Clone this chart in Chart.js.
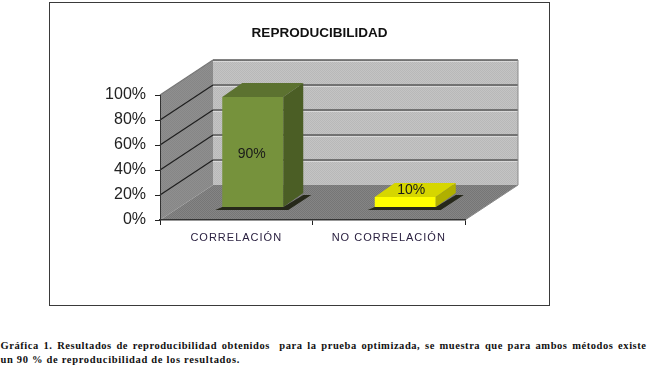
<!DOCTYPE html>
<html>
<head>
<meta charset="utf-8">
<script src="https://cdn.jsdelivr.net/npm/chart.js@4"></script>
<style>
html,body{margin:0;padding:0;background:#fff;overflow:hidden}
#wrap{position:absolute;left:0;top:0;width:639px;height:310px}
.cap{position:absolute;left:.5px;font:bold 10.5px "Liberation Serif",serif;color:#111;white-space:normal;letter-spacing:.68px}
#c1{top:340px;width:646px;text-align:justify;text-align-last:justify;letter-spacing:.55px}
#c2{top:354px}
</style>
</head>
<body>
<div id="wrap"><canvas id="chart" width="639" height="310"></canvas></div>
<div class="cap" id="c1">Gráfica 1. Resultados de reproducibilidad obtenidos &nbsp;para la prueba optimizada, se muestra que para ambos métodos existe</div>
<div class="cap" id="c2">un 90 % de reproducibilidad de los resultados.</div>
<script>
const categories = ['CORRELACIÓN', 'NO CORRELACIÓN'];
const values = [90, 10];
const valueLabels = ['90%', '10%'];
const titleText = 'REPRODUCIBILIDAD';
const frontColors = ['#76923c', '#ffff00'];
const topColors = ['#5c7230', '#d6d600'];
const sideColors = ['#4b5e25', '#b0b000'];

const wallDx = 53, wallDy = -35;      // depth of the 3D box
const barShiftX = 16.5, barShiftY = -10.5, barFloorY = 207; // bars stand inside the box
const barDx = 20, barDy = -14;        // depth of each bar

function checker(ctx, a, b) {
  const p = document.createElement('canvas');
  p.width = p.height = 2;
  const g = p.getContext('2d');
  g.fillStyle = a; g.fillRect(0, 0, 2, 2);
  g.fillStyle = b; g.fillRect(0, 0, 1, 1); g.fillRect(1, 1, 1, 1);
  return ctx.createPattern(p, 'repeat');
}
function poly(ctx, pts, fill) {
  ctx.beginPath();
  pts.forEach((p, i) => i ? ctx.lineTo(p[0], p[1]) : ctx.moveTo(p[0], p[1]));
  ctx.closePath();
  ctx.fillStyle = fill;
  ctx.fill();
}

const box3d = {
  id: 'box3d',
  beforeDraw(chart) {
    const ctx = chart.ctx, a = chart.chartArea, y = chart.scales.y, xs = chart.scales.x;
    if (!xs._spaced) {
      const orig = xs.drawLabels;
      xs.drawLabels = function (area) {
        ctx.letterSpacing = '1px';
        orig.call(this, area);
        ctx.letterSpacing = '0px';
      };
      xs._spaced = true;
    }
    ctx.save();
    // outer frame
    ctx.strokeStyle = '#3a3a3a'; ctx.lineWidth = 1;
    ctx.strokeRect(49.5, 2.5, 500, 303);
    const L = a.left, R = a.right, T = a.top, B = a.bottom;
    // back wall, side wall, floor
    poly(ctx, [[L + wallDx, T + wallDy], [R + wallDx, T + wallDy], [R + wallDx, B + wallDy], [L + wallDx, B + wallDy]], checker(ctx, '#c4c4c4', '#b8b8b8'));
    poly(ctx, [[L, T], [L + wallDx, T + wallDy], [L + wallDx, B + wallDy], [L, B]], checker(ctx, '#8f8f8f', '#868686'));
    poly(ctx, [[L, B], [R, B], [R + wallDx, B + wallDy], [L + wallDx, B + wallDy]], checker(ctx, '#858585', '#767676'));
    // grid lines wrapped round the walls
    y.ticks.forEach(t => {
      const py = y.getPixelForValue(t.value);
      if (t.value === 0) return;
      ctx.beginPath();
      ctx.moveTo(L, py); ctx.lineTo(L + wallDx, py + wallDy);
      ctx.strokeStyle = t.value === 100 ? '#777' : '#1e1e1e';
      ctx.lineWidth = 1.2; ctx.stroke();
      ctx.beginPath();
      ctx.moveTo(L + wallDx, py + wallDy); ctx.lineTo(R + wallDx, py + wallDy);
      ctx.strokeStyle = '#585858'; ctx.lineWidth = 1.6; ctx.stroke();
      ctx.beginPath();
      ctx.moveTo(L + wallDx, py + wallDy + 1.5); ctx.lineTo(R + wallDx, py + wallDy + 1.5);
      ctx.strokeStyle = '#d8d8d8'; ctx.lineWidth = 1; ctx.stroke();
    });
    ctx.beginPath();
    ctx.moveTo(R + wallDx, T + wallDy); ctx.lineTo(R + wallDx, B + wallDy); ctx.lineTo(R, B);
    ctx.strokeStyle = '#8a8a8a'; ctx.lineWidth = 1; ctx.stroke();
    ctx.restore();
  },
  beforeDatasetsDraw(chart) {
    const ctx = chart.ctx;
    ctx.save();
    chart.getDatasetMeta(0).data.forEach(el => {
      const x0 = el.x + barShiftX - el.width / 2, x1 = x0 + el.width;
      poly(ctx, [[x0 - 7, barFloorY + 3], [x1 + 5, barFloorY + 3], [x1 + barDx + 8, barFloorY + barDy + 2],
                 [x1 + barDx, barFloorY + barDy + 2], [x1, barFloorY], [x0, barFloorY]], '#26281a');
    });
    ctx.save();
    ctx.beginPath();
    ctx.rect(0, 0, chart.width, barFloorY);
    ctx.clip();
    ctx.translate(barShiftX, barShiftY);
  },
  afterDatasetsDraw(chart) {
    const ctx = chart.ctx;
    ctx.restore();
    chart.getDatasetMeta(0).data.forEach((el, i) => {
      const x0 = el.x + barShiftX - el.width / 2, x1 = x0 + el.width, yt = el.y + barShiftY;
      poly(ctx, [[x0, yt], [x1, yt], [x1 + barDx, yt + barDy], [x0 + barDx, yt + barDy]], topColors[i]);
      poly(ctx, [[x1, yt], [x1 + barDx, yt + barDy], [x1 + barDx, barFloorY + barDy], [x1, barFloorY]], sideColors[i]);
      ctx.font = '14px "Liberation Sans", Arial, sans-serif';
      ctx.fillStyle = '#1a1a1a';
      ctx.textAlign = 'center';
      ctx.textBaseline = 'middle';
      const low = values[i] < 20;
      const lx = low ? el.x + barShiftX + 6 : el.x + barShiftX - 1;
      const ly = low ? yt - 7 : (yt + barFloorY) / 2 + 2;
      ctx.fillText(valueLabels[i], lx, ly);
    });
    ctx.restore();
  }
};

new Chart(document.getElementById('chart'), {
  type: 'bar',
  data: {
    labels: categories,
    datasets: [{
      data: values,
      backgroundColor: frontColors,
      borderWidth: 0,
      barPercentage: 0.4,
      categoryPercentage: 1
    }]
  },
  plugins: [box3d],
  options: {
    responsive: false,
    animation: false,
    devicePixelRatio: 1,
    layout: { padding: 0 },
    plugins: {
      legend: { display: false },
      tooltip: { enabled: false },
      title: {
        display: true,
        text: titleText,
        color: '#111',
        font: { family: '"Liberation Sans", Arial, sans-serif', size: 13.5, weight: 'bold', lineHeight: 1.2 },
        padding: { top: 25, bottom: 53.8 }
      }
    },
    scales: {
      x: {
        grid: { drawOnChartArea: false, drawTicks: true, tickLength: 5, color: '#222', offset: true },
        border: { color: '#333', width: 1.5 },
        ticks: {
          color: '#2a2040', padding: 6, maxRotation: 0, autoSkip: false,
          font: { family: '"Liberation Sans", Arial, sans-serif', size: 11 }
        },
        afterFit(s) { s.height = 90; }
      },
      y: {
        min: 0, max: 100,
        grid: { drawOnChartArea: false, drawTicks: true, tickLength: 5, color: '#222' },
        border: { color: '#333', width: 1 },
        ticks: {
          stepSize: 20, color: '#222', padding: 9,
          font: { family: '"Liberation Sans", Arial, sans-serif', size: 16 },
          callback: v => v + '%'
        },
        afterFit(s) { s.width = 160; }
      },
      spacer: {
        position: 'right',
        display: true,
        grid: { display: false },
        border: { display: false },
        ticks: { display: false },
        afterFit(s) { s.width = 174; }
      }
    }
  }
});
</script>
</body>
</html>
